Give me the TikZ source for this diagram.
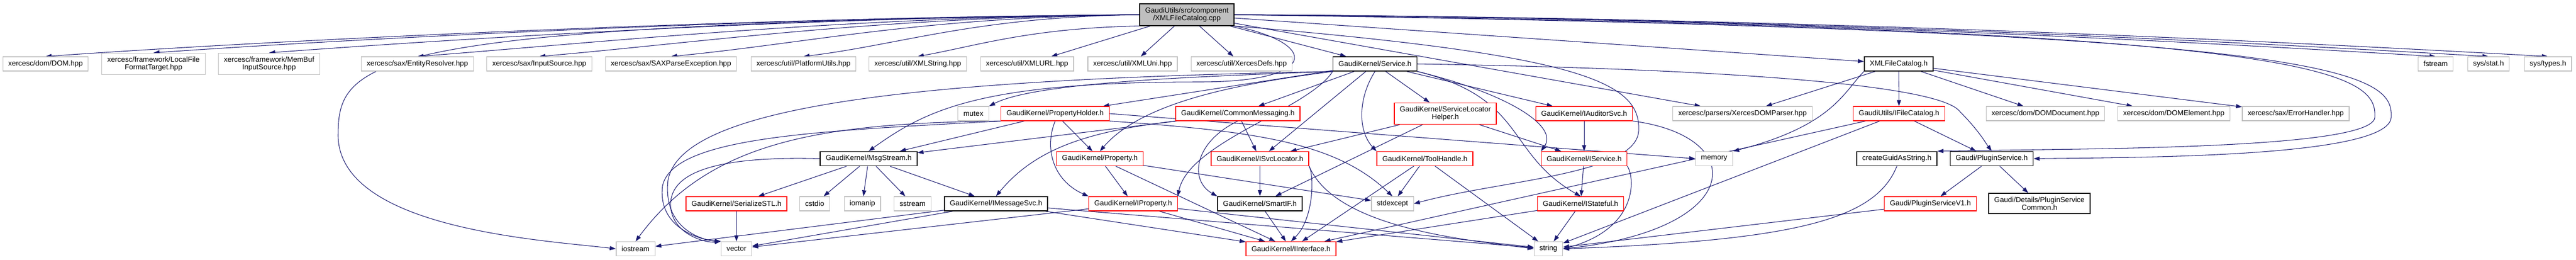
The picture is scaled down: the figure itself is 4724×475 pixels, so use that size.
\documentclass[tikz,border=0pt]{standalone}
\usepackage{fontspec}
\newfontfamily\dotfont{Liberation Sans}
\usetikzlibrary{arrows.meta,backgrounds}
\definecolor{edgeblue}{HTML}{191970}
\definecolor{sysgray}{HTML}{BFBFBF}
\begin{document}
\begin{tikzpicture}[x=0.01cm,y=-0.01cm,
    filebox/.style={draw, fill=white, line width=0.35pt, inner xsep=0.1cm, inner ysep=0.065cm,
      minimum height=0.26cm, align=center, font=\dotfont\fontsize{3.8}{4}\selectfont},
    hdrbox/.style={filebox, draw=black, line width=0.45pt},
    sysbox/.style={filebox, draw=sysgray},
    cutbox/.style={filebox, draw=red},
    mainbox/.style={filebox, draw=black, fill=sysgray, line width=0.45pt},
    incl/.style={-{Triangle[length=0.11cm,width=0.075cm]}, draw=edgeblue, line width=0.3pt}]
    \useasboundingbox (0,0) rectangle (4724,475);

    \node[mainbox] (root) at (2176.5,27) {GaudiUtils/src/component\\/XMLFileCatalog.cpp};

    \node[sysbox] (dom) at (83.5,117) {xercesc/dom/DOM.hpp};
    \node[sysbox] (lfft) at (281.5,117) {xercesc/framework/LocalFile\\FormatTarget.hpp};
    \node[sysbox] (mbis) at (493.5,117) {xercesc/framework/MemBuf\\InputSource.hpp};
    \node[sysbox] (entres) at (765.5,117) {xercesc/sax/EntityResolver.hpp};
    \node[sysbox] (insrc) at (989,117) {xercesc/sax/InputSource.hpp};
    \node[sysbox] (saxexc) at (1230.5,117) {xercesc/sax/SAXParseException.hpp};
    \node[sysbox] (platutil) at (1473.5,117) {xercesc/util/PlatformUtils.hpp};
    \node[sysbox] (xmlstr) at (1683,117) {xercesc/util/XMLString.hpp};
    \node[sysbox] (xmlurl) at (1883.5,117) {xercesc/util/XMLURL.hpp};
    \node[sysbox] (xmluni) at (2077,117) {xercesc/util/XMLUni.hpp};
    \node[sysbox] (xdefs) at (2277,117) {xercesc/util/XercesDefs.hpp};
    \node[hdrbox] (svc) at (2521.5,117) {GaudiKernel/Service.h};
    \node[hdrbox] (xfch) at (3482,117) {XMLFileCatalog.h};
    \node[sysbox] (fstream) at (4466.5,117) {fstream};
    \node[sysbox] (sysstat) at (4563.5,117) {sys/stat.h};
    \node[sysbox] (systypes) at (4672.5,117) {sys/types.h};

    \node[sysbox] (mutex) at (1785,208) {mutex};
    \node[cutbox] (propholder) at (1935,208) {GaudiKernel/PropertyHolder.h};
    \node[cutbox] (commsg) at (2270,208) {GaudiKernel/CommonMessaging.h};
    \node[cutbox] (svchelp) at (2650.5,208) {GaudiKernel/ServiceLocator\\Helper.h};
    \node[cutbox] (iaudsvc) at (2905,208) {GaudiKernel/IAuditorSvc.h};
    \node[sysbox] (xdomparser) at (3195.5,208) {xercesc/parsers/XercesDOMParser.hpp};
    \node[cutbox] (ifilecat) at (3482.5,208) {GaudiUtils/IFileCatalog.h};
    \node[sysbox] (domdoc) at (3751,208) {xercesc/dom/DOMDocument.hpp};
    \node[sysbox] (domelem) at (3986.5,208) {xercesc/dom/DOMElement.hpp};
    \node[sysbox] (errh) at (4210,208) {xercesc/sax/ErrorHandler.hpp};

    \node[hdrbox] (msgstream) at (1593,290.5) {GaudiKernel/MsgStream.h};
    \node[cutbox] (property) at (2017,290.5) {GaudiKernel/Property.h};
    \node[cutbox] (isvcloc) at (2310.5,290.5) {GaudiKernel/ISvcLocator.h};
    \node[cutbox] (toolh) at (2613,290.5) {GaudiKernel/ToolHandle.h};
    \node[cutbox] (iservice) at (2905,290.5) {GaudiKernel/IService.h};
    \node[sysbox] (memory) at (3143.5,290.5) {memory};
    \node[hdrbox] (guid) at (3478.5,290.5) {createGuidAsString.h};
    \node[hdrbox] (pluginsvc) at (3652.5,290.5) {Gaudi/PluginService.h};

    \node[cutbox] (sstl) at (1350.5,373) {GaudiKernel/SerializeSTL.h};
    \node[sysbox] (cstdio) at (1494,373) {cstdio};
    \node[sysbox] (iomanip) at (1581.5,373) {iomanip};
    \node[sysbox] (sstream) at (1673.5,373) {sstream};
    \node[hdrbox] (imsgsvc) at (1826.5,373) {GaudiKernel/IMessageSvc.h};
    \node[cutbox] (iproperty) at (2078,373) {GaudiKernel/IProperty.h};
    \node[hdrbox] (smartif) at (2310.5,373) {GaudiKernel/SmartIF.h};
    \node[sysbox] (stdexcept) at (2553.5,373) {stdexcept};
    \node[cutbox] (istateful) at (2898.5,373) {GaudiKernel/IStateful.h};
    \node[cutbox] (pluginv1) at (3540,373) {Gaudi/PluginServiceV1.h};
    \node[hdrbox] (pscommon) at (3740,372.5) {Gaudi/Details/PluginService\\Common.h};

    \node[sysbox] (iostream) at (1165.5,455.5) {iostream};
    \node[sysbox] (vector) at (1350.5,455.5) {vector};
    \node[cutbox] (iinterface) at (2367.5,455.5) {GaudiKernel/IInterface.h};
    \node[sysbox] (string) at (2839.5,455.5) {string};

    \begin{scope}[on background layer]
    % XMLFileCatalog.cpp
    \draw[incl] (root.west) .. controls +(-700,4) and +(420,-30) .. (dom.north); \draw[incl] (root.west) .. controls +(-650,4) and +(400,-28) .. (lfft.north);
    \draw[incl] (root.west) .. controls +(-600,4) and +(380,-28) .. (mbis.north); \draw[incl] (root.west) .. controls +(-550,4) and +(340,-26) .. (entres.north);
    \draw[incl] (root.west) .. controls +(-480,4) and +(300,-26) .. (insrc.north); \draw[incl] (root.west) .. controls +(-400,4) and +(250,-24) .. (saxexc.north);
    \draw[incl] (root.west) .. controls +(-300,4) and +(180,-22) .. (platutil.north); \draw[incl] (root.south west) .. controls +(-200,4) and +(110,-20) .. (xmlstr.north);
    \draw[incl] (root) to (xmlurl); \draw[incl] (root) to (xmluni); \draw[incl] (root) to (xdefs); \draw[incl] (root) to (svc); \draw[incl] (root) to (xfch);
    \draw[incl] (root.east) .. controls +(900,4) and +(-500,-30) .. (fstream.north); \draw[incl] (root.east) .. controls +(950,4) and +(-520,-30) .. (sysstat.north);
    \draw[incl] (root.east) .. controls +(1000,4) and +(-540,-30) .. (systypes.north);
    \draw[incl] (root) to (xdomparser);
    \draw[incl] (root.west) .. controls (660,45) and (620,110) .. (620,250) .. controls (625,420) and (1000,440) .. (iostream.west);
    \draw[incl] (root.south east) .. controls (2420,80) and (2420,150) .. (2200,150) .. controls (1800,150) and (1700,200) .. (msgstream.north);
    \draw[incl] (root.south east) .. controls (2900,100) and (3010,150) .. (3005,240) .. controls (3000,320) and (2750,330) .. (stdexcept.east);
    \draw[incl] (root.east) .. controls (4250,50) and (4360,130) .. (4355,215) .. controls (4350,275) and (3800,272) .. (guid.north east);
    \draw[incl] (root.east) .. controls (4280,55) and (4390,130) .. (4385,215) .. controls (4380,290) and (3900,288) .. (pluginsvc.east);
    % GaudiKernel/Service.h
    \draw[incl] (svc) to (commsg); \draw[incl] (svc) to (propholder); \draw[incl] (svc) to (svchelp); \draw[incl] (svc) to (iaudsvc);
    \draw[incl] (svc) to (isvcloc); \draw[incl] (svc.south west) .. controls (2200,140) and (1900,150) .. (mutex.north east);
    \draw[incl] (svc.south east) .. controls (2760,170) and (2860,230) .. (iservice.north west);
    \draw[incl] (svc.south east) .. controls (2800,180) and (2760,280) .. (istateful.north);
    \draw[incl] (svc.south) .. controls (2490,180) and (2490,240) .. (toolh.north west);
    \draw[incl] (svc.south west) .. controls (2300,150) and (2100,180) .. (property.north);
    \draw[incl] (svc.south west) .. controls (2400,200) and (2180,260) .. (iproperty.north east);
    \draw[incl] (svc.south west) .. controls (1700,145) and (1250,190) .. (1225,330) .. controls (1215,420) and (1290,440) .. (vector.north west);
    \draw[incl] (svc.east) .. controls (3100,125) and (3530,150) .. (3590,200) .. controls (3630,240) and (3640,260) .. (pluginsvc.north);
    % XMLFileCatalog.h
    \draw[incl] (xfch) to (ifilecat); \draw[incl] (xfch) to (domdoc); \draw[incl] (xfch) to (domelem); \draw[incl] (xfch) to (errh);
    \draw[incl] (xfch) to (xdomparser); \draw[incl] (xfch.south west) .. controls (3380,170) and (3360,230) .. (memory.north east);
    % second level
    \draw[incl] (propholder) to (msgstream); \draw[incl] (propholder) to (property); \draw[incl] (propholder.east) to (memory.west);
    \draw[incl] (propholder.south) .. controls (1915,270) and (1930,330) .. (iproperty.north west);
    \draw[incl] (propholder.south east) .. controls (2300,240) and (2450,260) .. (stdexcept.north);
    \draw[incl] (propholder.south west) .. controls (1500,225) and (1300,260) .. (iostream.north);
    \draw[incl] (propholder.south west) .. controls (1500,240) and (1235,250) .. (1215,340) .. controls (1205,420) and (1290,440) .. (vector.north west);
    \draw[incl] (commsg) to (msgstream); \draw[incl] (commsg) to (isvcloc);
    \draw[incl] (commsg.south west) .. controls (2000,240) and (1900,270) .. (imsgsvc.north);
    \draw[incl] (commsg.south) .. controls (2190,260) and (2180,330) .. (smartif.north west);
    \draw[incl] (svchelp) to (isvcloc); \draw[incl] (svchelp) to (smartif); \draw[incl] (svchelp) to (iservice);
    \draw[incl] (iaudsvc) to (iservice); \draw[incl] (iaudsvc.south east) .. controls (3210,250) and (3200,420) .. (string.east);
    \draw[incl] (ifilecat) to (pluginsvc); \draw[incl] (ifilecat) to (string); \draw[incl] (ifilecat) to (iinterface);
    % third level
    \draw[incl] (msgstream) to (sstl); \draw[incl] (msgstream) to (cstdio); \draw[incl] (msgstream) to (iomanip);
    \draw[incl] (msgstream) to (sstream); \draw[incl] (msgstream) to (imsgsvc);
    \draw[incl] (msgstream.west) .. controls (1300,285) and (1225,320) .. (1230,380) .. controls (1235,430) and (1295,445) .. (vector.north west);
    \draw[incl] (property) to (iproperty); \draw[incl] (property) to (stdexcept); \draw[incl] (property) to (iinterface);
    \draw[incl] (isvcloc) to (smartif); \draw[incl] (isvcloc.south east) .. controls (2410,320) and (2410,400) .. (iinterface.north);
    \draw[incl] (isvcloc.south east) .. controls (2450,420) and (2700,440) .. (string.west);
    \draw[incl] (toolh) to (stdexcept); \draw[incl] (toolh) to (string); \draw[incl] (toolh) to (iinterface);
    \draw[incl] (iservice) to (istateful); \draw[incl] (iservice.south east) .. controls (3000,330) and (3000,420) .. (string.east);
    \draw[incl] (guid.south) .. controls (3440,400) and (3300,440) .. (string.east);
    \draw[incl] (pluginsvc) to (pluginv1); \draw[incl] (pluginsvc) to (pscommon);
    % fourth level
    \draw[incl] (sstl) to (vector); \draw[incl] (imsgsvc) to (iostream); \draw[incl] (imsgsvc) to (vector);
    \draw[incl] (imsgsvc) to (iinterface); \draw[incl] (imsgsvc) to (string);
    \draw[incl] (iproperty) to (vector); \draw[incl] (iproperty) to (iinterface); \draw[incl] (iproperty) to (string);
    \draw[incl] (smartif) to (iinterface); \draw[incl] (istateful) to (string); \draw[incl] (istateful) to (iinterface);
    \draw[incl] (pluginv1) to (string);
    \end{scope}
\end{tikzpicture}
\end{document}
